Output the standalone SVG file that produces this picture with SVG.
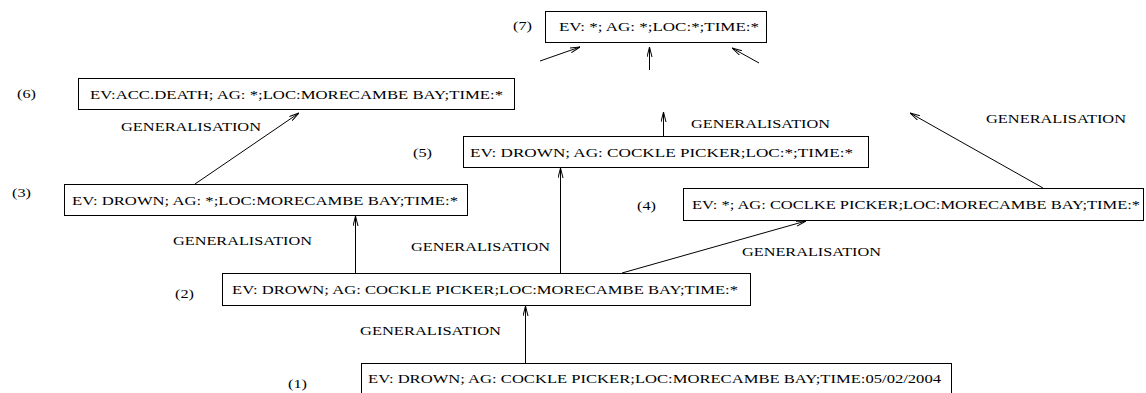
<svg xmlns="http://www.w3.org/2000/svg" width="1146" height="393" viewBox="0 0 1146 393">
<style>
text{font-family:"Liberation Serif","Times New Roman",serif;font-size:13px;fill:#000}
.box{fill:#fff;stroke:#000;stroke-width:1}
.c line{stroke:#000;stroke-width:1}
.a{marker-end:url(#ah)}
</style>
<defs>
<marker id="ah" viewBox="0 0 10 6" refX="10" refY="3" markerWidth="10" markerHeight="6" markerUnits="userSpaceOnUse" orient="auto">
<path d="M0,0.5 L10,3 L0,5.5" fill="none" stroke="#000" stroke-width="1"/>
</marker>
</defs>
<rect width="1146" height="393" fill="#fff"/>
<g id="n7">
<text x="513" y="30" textLength="19" lengthAdjust="spacingAndGlyphs">(7)</text>
<rect class="box" x="545.5" y="11.5" width="221" height="31"/>
<text x="559" y="31" textLength="200" lengthAdjust="spacingAndGlyphs">EV: *; AG: *;LOC:*;TIME:*</text>
</g>
<g id="n6">
<text x="17" y="98" textLength="19" lengthAdjust="spacingAndGlyphs">(6)</text>
<rect class="box" x="78.5" y="78.5" width="436" height="31"/>
<text x="90" y="98.5" textLength="413" lengthAdjust="spacingAndGlyphs">EV:ACC.DEATH; AG: *;LOC:MORECAMBE BAY;TIME:*</text>
</g>
<g id="n5">
<text x="413" y="157" textLength="19" lengthAdjust="spacingAndGlyphs">(5)</text>
<rect class="box" x="463.5" y="136.5" width="405" height="31"/>
<text x="470" y="156.5" textLength="383" lengthAdjust="spacingAndGlyphs">EV: DROWN; AG: COCKLE PICKER;LOC:*;TIME:*</text>
</g>
<g id="n3">
<text x="12" y="197" textLength="19" lengthAdjust="spacingAndGlyphs">(3)</text>
<rect class="box" x="64.5" y="184.5" width="403" height="31"/>
<text x="72" y="204.5" textLength="386" lengthAdjust="spacingAndGlyphs">EV: DROWN; AG: *;LOC:MORECAMBE BAY;TIME:*</text>
</g>
<g id="n4">
<text x="637" y="210" textLength="19" lengthAdjust="spacingAndGlyphs">(4)</text>
<rect class="box" x="683.5" y="188.5" width="460" height="32"/>
<text x="692" y="209" textLength="448" lengthAdjust="spacingAndGlyphs">EV: *; AG: COCLKE PICKER;LOC:MORECAMBE BAY;TIME:*</text>
</g>
<g id="n2">
<text x="175" y="298" textLength="19" lengthAdjust="spacingAndGlyphs">(2)</text>
<rect class="box" x="222.5" y="273.5" width="528" height="32"/>
<text x="232" y="294" textLength="506" lengthAdjust="spacingAndGlyphs">EV: DROWN; AG: COCKLE PICKER;LOC:MORECAMBE BAY;TIME:*</text>
</g>
<g id="n1">
<text x="288" y="388" textLength="19" lengthAdjust="spacingAndGlyphs">(1)</text>
<rect class="box" x="361.5" y="363.5" width="590" height="40"/>
<text x="368" y="383" textLength="573" lengthAdjust="spacingAndGlyphs">EV: DROWN; AG: COCKLE PICKER;LOC:MORECAMBE BAY;TIME:05/02/2004</text>
</g>
<g id="connectors" class="c">
<line class="a" x1="525.5" y1="363" x2="525.5" y2="306"/>
<line class="a" x1="355.5" y1="273" x2="355.5" y2="216"/>
<line class="a" x1="560.5" y1="273" x2="560.5" y2="168"/>
<line class="a" x1="622" y1="273" x2="806" y2="221"/>
<line class="a" x1="195" y1="184" x2="299" y2="113"/>
<line class="a" x1="663.5" y1="136" x2="663.5" y2="112"/>
<line class="a" x1="1043" y1="188" x2="910" y2="113"/>
<line class="a" x1="540" y1="61" x2="580" y2="47"/>
<line class="a" x1="649.5" y1="70" x2="649.5" y2="47"/>
<line class="a" x1="759" y1="63" x2="732" y2="48"/>
</g>
<g id="labels">
<text x="121" y="131" textLength="140" lengthAdjust="spacingAndGlyphs">GENERALISATION</text>
<text x="691" y="128" textLength="139" lengthAdjust="spacingAndGlyphs">GENERALISATION</text>
<text x="986" y="123" textLength="140" lengthAdjust="spacingAndGlyphs">GENERALISATION</text>
<text x="173" y="245" textLength="139" lengthAdjust="spacingAndGlyphs">GENERALISATION</text>
<text x="411" y="251" textLength="139" lengthAdjust="spacingAndGlyphs">GENERALISATION</text>
<text x="742" y="256" textLength="139" lengthAdjust="spacingAndGlyphs">GENERALISATION</text>
<text x="360" y="335" textLength="141" lengthAdjust="spacingAndGlyphs">GENERALISATION</text>
</g>
</svg>
